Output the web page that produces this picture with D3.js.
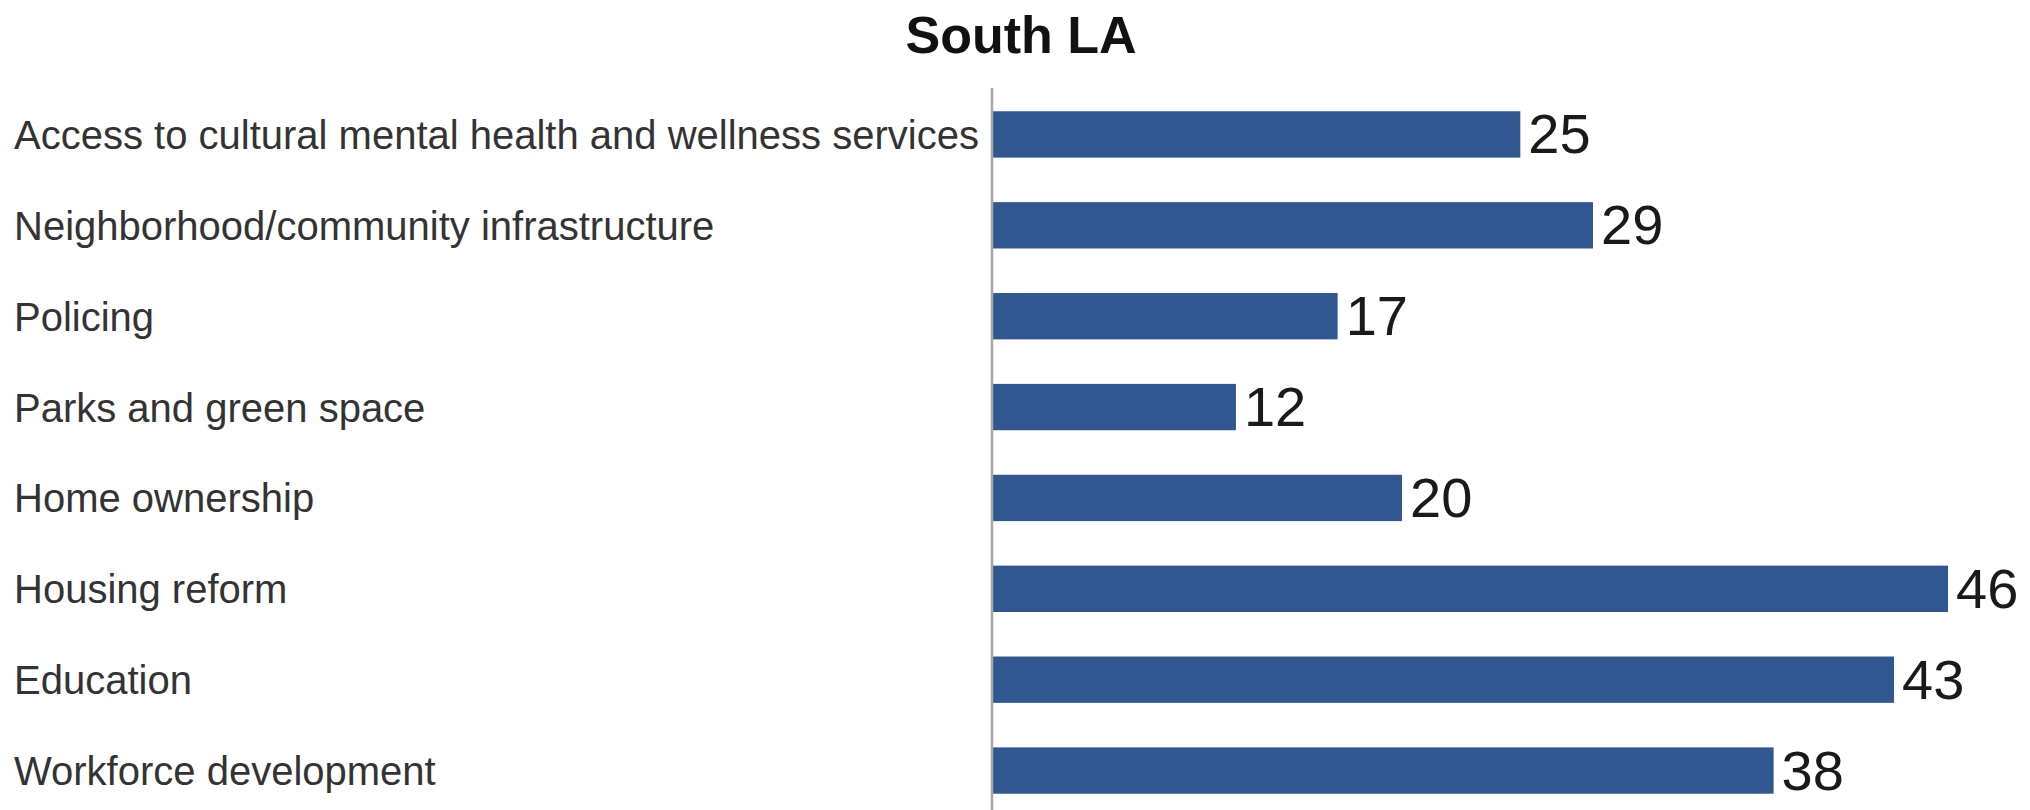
<!DOCTYPE html>
<html>
<head>
<meta charset="utf-8">
<script src="https://cdn.jsdelivr.net/npm/d3@7"></script>
<style>
  html, body { margin: 0; padding: 0; background: #fff; }
  svg { display: block; }
</style>
</head>
<body>
<svg id="chart" width="2030" height="810"></svg>
<script>
const title = "South LA";
const categories = [
  "Access to cultural mental health and wellness services",
  "Neighborhood/community infrastructure",
  "Policing",
  "Parks and green space",
  "Home ownership",
  "Housing reform",
  "Education",
  "Workforce development"
];
// bar values; labels shown rounded as in the reference
const values = [25.4, 28.9, 16.6, 11.7, 19.7, 46.0, 43.4, 37.6];

const W = 2030, H = 810;
const svg = d3.select("#chart");
svg.append("rect").attr("width", W).attr("height", H).attr("fill", "#fff");

const x0 = 993;
const x = d3.scaleLinear().domain([0, 46]).range([x0, 1948]);
const y = d3.scaleBand().domain(categories).range([89, 816])
  .paddingInner(0.49).paddingOuter(0.245);
const fmt = d3.format(".0f");

// Title
svg.append("text")
  .attr("x", 1021).attr("y", 53)
  .attr("text-anchor", "middle")
  .attr("font-family", "Liberation Sans, Arial, sans-serif")
  .attr("font-weight", "bold")
  .attr("font-size", 52)
  .attr("fill", "#111")
  .text(title);

// Bars
svg.append("g").selectAll("rect")
  .data(categories)
  .join("rect")
  .attr("x", x(0))
  .attr("y", d => y(d))
  .attr("width", (d, i) => x(values[i]) - x(0))
  .attr("height", y.bandwidth())
  .attr("fill", "#30578f");

// Axis line (category axis, no ticks)
const yAxis = d3.axisLeft(y).tickSize(0).tickFormat("");
const ag = svg.append("g").attr("transform", `translate(${x0 - 1},0)`).call(yAxis);
ag.select(".domain").attr("stroke", "#a8a8a8").attr("stroke-width", 2.5)
  .attr("d", `M0,88V${H}`);

// Category labels
svg.append("g").selectAll("text")
  .data(categories)
  .join("text")
  .attr("x", 14)
  .attr("y", d => y(d) + y.bandwidth() / 2 + 14.5)
  .attr("font-family", "Liberation Sans, Arial, sans-serif")
  .attr("font-size", 40)
  .attr("fill", "#333")
  .text(d => d);

// Value labels
svg.append("g").selectAll("text")
  .data(categories)
  .join("text")
  .attr("x", (d, i) => x(values[i]) + 8)
  .attr("y", d => y(d) + y.bandwidth() / 2 + 19)
  .attr("font-family", "Liberation Sans, Arial, sans-serif")
  .attr("font-size", 56)
  .attr("fill", "#1a1a1a")
  .text((d, i) => fmt(values[i]));
</script>
</body>
</html>
